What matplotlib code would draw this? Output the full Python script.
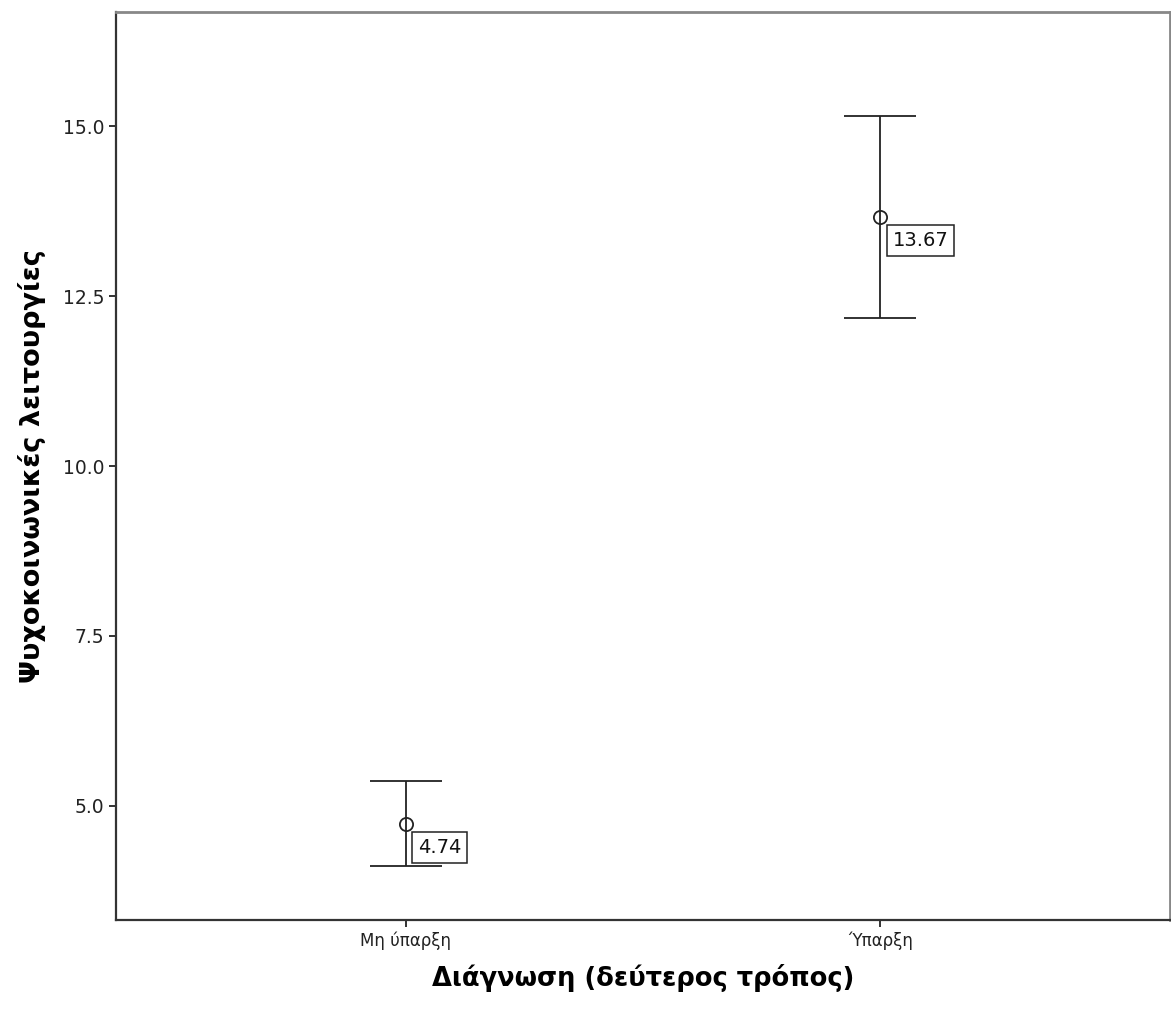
import matplotlib
matplotlib.use("Agg")
import matplotlib.pyplot as plt

# ομάδες διάγνωσης και μέσοι όροι με διαστήματα εμπιστοσύνης
groups = ["Μη ύπαρξη", "Ύπαρξη"]
means = [4.74, 13.67]
ci_low = [4.12, 12.18]
ci_high = [5.37, 15.15]
yticks = [5.0, 7.5, 10.0, 12.5, 15.0]

plt.rcParams['font.family'] = ['DejaVu Sans']

fig = plt.figure(figsize=(11.71, 10.14), dpi=100)
ax = fig.add_axes([0.099, 0.0927, 0.9, 0.8953])

xs = list(range(len(groups)))
err = [[m - lo for m, lo in zip(means, ci_low)],
       [hi - m for m, hi in zip(means, ci_high)]]

ax.errorbar(xs, means, yerr=err, fmt='none', ecolor='#222222',
            elinewidth=1.3, capsize=26, capthick=1.3)
ax.plot(xs, means, 'o', markersize=9.5, markerfacecolor='none',
        markeredgecolor='#222222', markeredgewidth=1.3)

# ετικέτες τιμών δίπλα στα σημεία
for x, m in zip(xs, means):
    ax.annotate(f"{m:.2f}", (x, m), xytext=(9, -10.5), textcoords='offset points',
                ha='left', va='top', fontsize=14, color='#111111',
                bbox=dict(boxstyle='square,pad=0.3', facecolor='white',
                          edgecolor='#222222', linewidth=1.1))

ax.set_xlim(-0.61, 1.61)
ax.set_ylim(3.32, 16.68)
ax.set_xticks(xs)
ax.set_xticklabels(groups)
ax.set_yticks(yticks)
ax.set_yticklabels([f"{t:.1f}" for t in yticks])
ax.tick_params(axis='y', labelsize=13.5)
ax.tick_params(axis='x', labelsize=12)
ax.tick_params(axis='both', length=5, width=1.3,
               color='#222222', labelcolor='#222222')

for side in ['left', 'bottom']:
    ax.spines[side].set_color('#333333')
    ax.spines[side].set_linewidth(1.6)
for side in ['top', 'right']:
    ax.spines[side].set_color('#888888')
    ax.spines[side].set_linewidth(2.0)

ax.set_xlabel("Διάγνωση (δεύτερος τρόπος)", fontsize=18.5, fontweight='bold',
              labelpad=10)
ax.set_ylabel("Ψυχοκοινωνικές λειτουργίες", fontsize=19.5, fontweight='bold',
              labelpad=12)

fig.savefig("out.png", dpi=100)
